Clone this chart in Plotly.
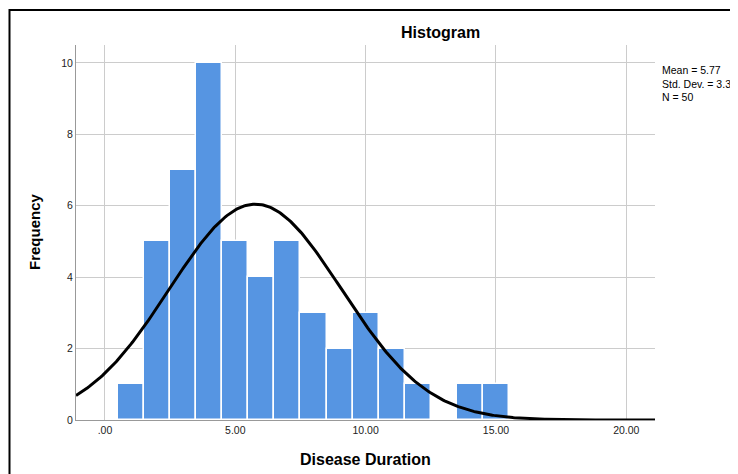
import numpy as np
import plotly.graph_objects as go

bin_centers = [1, 2, 3, 4, 5, 6, 7, 8, 9, 10, 11, 12, 13, 14, 15]
counts = [1, 5, 7, 10, 5, 4, 5, 3, 2, 3, 2, 1, 0, 1, 1]
mean_val = 5.77
std_val = 3.30
n_val = 50
x_ticks = [0, 5, 10, 15, 20]
x_tick_labels = [".00", "5.00", "10.00", "15.00", "20.00"]
y_ticks = [0, 2, 4, 6, 8, 10]

x_range = [-1.11, 21.1]
xs = np.linspace(x_range[0], x_range[1], 400)
ys = n_val * 1.0 / (std_val * np.sqrt(2 * np.pi)) * np.exp(-0.5 * ((xs - mean_val) / std_val) ** 2)

fig = go.Figure()
fig.add_trace(go.Bar(
    x=bin_centers, y=counts, width=1.0,
    marker=dict(color="rgb(86,149,226)", line=dict(color="white", width=1.5)),
    hoverinfo="x+y",
))
fig.add_trace(go.Scatter(
    x=xs, y=ys, mode="lines", line=dict(color="black", width=3), hoverinfo="skip",
))

W, H = 738, 474
L, T = 68, 37
R = W - 647
B = H - 412
pw, ph = W - L - R, H - T - B

def px(x):
    return (x - L) / pw

def py(y):
    return 1 - (y - T) / ph

fig.update_layout(
    width=W, height=H,
    margin=dict(l=L, r=R, t=T, b=B),
    paper_bgcolor="white", plot_bgcolor="white",
    showlegend=False, bargap=0,
    font=dict(family="Liberation Sans, Arial, sans-serif", color="black"),
    xaxis=dict(range=x_range, tickvals=x_ticks, ticktext=x_tick_labels,
               showgrid=True, gridcolor="#cccccc", gridwidth=1,
               showline=True, linecolor="#999999", linewidth=1,
               zeroline=False, ticks="", tickfont=dict(size=10.5, color="#222")),
    yaxis=dict(range=[0, 10.5], tickvals=y_ticks,
               showgrid=True, gridcolor="#cccccc", gridwidth=1,
               showline=True, linecolor="#999999", linewidth=1,
               zeroline=False, ticks="", tickfont=dict(size=10.5, color="#222")),
)

# title and axis titles
fig.add_annotation(xref="paper", yref="paper", x=px(432), y=py(24),
                   xanchor="center", yanchor="middle", showarrow=False,
                   text="<b>Histogram</b>", font=dict(size=16))
fig.add_annotation(xref="paper", yref="paper", x=px(357), y=py(451),
                   xanchor="center", yanchor="middle", showarrow=False,
                   text="<b>Disease Duration</b>", font=dict(size=16))
fig.add_annotation(xref="paper", yref="paper", x=px(27), y=py(224),
                   xanchor="center", yanchor="middle", showarrow=False, textangle=-90,
                   text="<b>Frequency</b>", font=dict(size=15))

# stats annotation
fig.add_annotation(
    xref="paper", yref="paper",
    x=px(652), y=py(54),
    xanchor="left", yanchor="top", align="left", showarrow=False,
    text=f"Mean = {mean_val:.2f}<br>Std. Dev. = {std_val:.2f}<br>N = {n_val}",
    font=dict(size=10.5, color="black"),
)

# outer border
fig.add_shape(
    type="rect", xref="paper", yref="paper",
    x0=px(1.5), x1=px(W - 1), y0=py(H - 1), y1=py(2),
    line=dict(color="black", width=2), fillcolor="rgba(0,0,0,0)", layer="above",
)

fig.write_html("out.html")
